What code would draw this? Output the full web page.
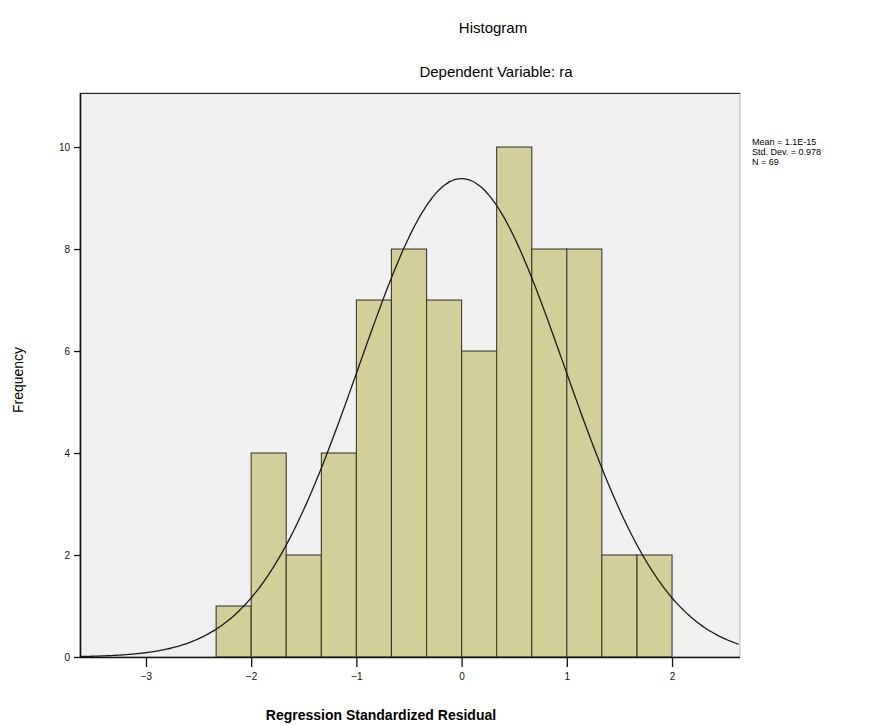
<!DOCTYPE html>
<html lang="en">
  <head>
    <meta charset="utf-8" />
    <title>Histogram</title>
    <script type="text/javascript" src="https://d3js.org/d3.v7.min.js"></script>
    <style>
      body { margin: 0; background: #fff; }
      text { font-family: "Liberation Sans", Arial, sans-serif; }
    </style>
  </head>
  <body>
    <div id="chart"></div>

    <script type="text/javascript">
      /********************************
       * data
       ********************************/

      // bin edges of the standardized residuals (width 1/3)
      const binEdges = [-2.333, -2, -1.667, -1.333, -1, -0.667, -0.333, 0,
        0.333, 0.667, 1, 1.333, 1.667, 2];
      const counts = [1, 4, 2, 4, 7, 8, 7, 6, 10, 8, 8, 2, 2];

      const xTicks = [-3, -2, -1, 0, 1, 2];
      const yTicks = [0, 2, 4, 6, 8, 10];

      const stats = { mean: 0, sd: 0.978, n: 69 };
      const legendLines = ["Mean = 1.1E-15", "Std. Dev. = 0.978", "N = 69"];

      const bins = counts.map((c, i) => ({ x0: binEdges[i], x1: binEdges[i + 1], count: c }));

      /***************************
       * create svg
       **************************/
      const width = 888;
      const height = 725;
      const margin = { top: 93, right: 148, bottom: 68, left: 80 };

      const svg = d3
        .select("div#chart")
        .append("svg")
        .attr("width", width)
        .attr("height", height);

      /****************************
       * scale
       *************************/
      const xScale = d3
        .scaleLinear()
        .domain([-3.627, 2.646])
        .range([margin.left, width - margin.right]);

      const yScale = d3
        .scaleLinear()
        .domain([0, 11.06])
        .range([height - margin.bottom, margin.top]);

      // plot background
      svg
        .append("rect")
        .attr("x", margin.left)
        .attr("y", margin.top)
        .attr("width", width - margin.left - margin.right)
        .attr("height", height - margin.top - margin.bottom)
        .attr("fill", "#f0f0f0")
        .attr("stroke", "#b8b8b8")
        .attr("stroke-width", 1);

      // top border is dark
      svg
        .append("line")
        .attr("x1", margin.left)
        .attr("x2", width - margin.right)
        .attr("y1", margin.top + 0.5)
        .attr("y2", margin.top + 0.5)
        .attr("stroke", "#222")
        .attr("stroke-width", 1.2);

      /*******************************
       * bars
       *******************************/
      svg
        .append("g")
        .selectAll("rect")
        .data(bins)
        .enter()
        .append("rect")
        .attr("x", (d) => xScale(d.x0))
        .attr("y", (d) => yScale(d.count))
        .attr("width", (d) => xScale(d.x1) - xScale(d.x0))
        .attr("height", (d) => yScale(0) - yScale(d.count))
        .attr("fill", "#d3cf98")
        .attr("stroke", "#3c3c30")
        .attr("stroke-width", 1.1);

      /*******************************
       * normal curve
       *******************************/
      const binWidth = 1 / 3;
      const pdf = (x) =>
        (1 / (stats.sd * Math.sqrt(2 * Math.PI))) *
        Math.exp(-0.5 * Math.pow((x - stats.mean) / stats.sd, 2));

      const curveX = d3.range(-3.627, 2.647, 0.02);
      const line = d3
        .line()
        .x((d) => xScale(d))
        .y((d) => yScale(stats.n * binWidth * pdf(d)))
        .curve(d3.curveBasis);

      svg
        .append("path")
        .datum(curveX)
        .attr("d", line)
        .attr("fill", "none")
        .attr("stroke", "#1a1a1a")
        .attr("stroke-width", 1.3);

      /*********************************
       * axes
       *******************************/
      const xAxis = d3
        .axisBottom(xScale)
        .tickValues(xTicks)
        .tickSize(10)
        .tickPadding(6)
        .tickFormat(d3.format("d"));

      const yAxis = d3
        .axisLeft(yScale)
        .tickValues(yTicks)
        .tickSize(6)
        .tickPadding(4)
        .tickFormat(d3.format("d"));

      const xAxisGroup = svg
        .append("g")
        .attr("transform", `translate(0,${height - margin.bottom})`)
        .call(xAxis);

      const yAxisGroup = svg
        .append("g")
        .attr("transform", `translate(${margin.left},0)`)
        .call(yAxis);

      [xAxisGroup, yAxisGroup].forEach((g) => {
        g.select(".domain").attr("stroke", "#111").attr("stroke-width", 1.6);
        g.selectAll(".tick line").attr("stroke", "#111").attr("stroke-width", 1.3);
        g.selectAll(".tick text")
          .attr("fill", "#111")
          .style("font-size", "10px")
          .style("font-family", "'Liberation Sans', Arial, sans-serif");
      });
      // plain axis lines without end caps
      xAxisGroup
        .select(".domain")
        .attr("d", `M${margin.left},0.5H${width - margin.right}`);
      yAxisGroup
        .select(".domain")
        .attr("d", `M0.5,${margin.top}V${height - margin.bottom}`);

      /*********************************
       * titles & labels
       *******************************/
      svg
        .append("text")
        .attr("x", 493)
        .attr("y", 33)
        .attr("text-anchor", "middle")
        .style("font-size", "15px")
        .text("Histogram");

      svg
        .append("text")
        .attr("x", 496)
        .attr("y", 77)
        .attr("text-anchor", "middle")
        .style("font-size", "15px")
        .text("Dependent Variable: ra");

      svg
        .append("text")
        .attr("x", 381)
        .attr("y", 720)
        .attr("text-anchor", "middle")
        .style("font-size", "14px")
        .style("font-weight", "bold")
        .text("Regression Standardized Residual");

      svg
        .append("text")
        .attr("x", -380)
        .attr("y", 23)
        .attr("text-anchor", "middle")
        .attr("transform", "rotate(-90)")
        .style("font-size", "14px")
        .text("Frequency");

      // legend with stats
      svg
        .append("g")
        .selectAll("text")
        .data(legendLines)
        .enter()
        .append("text")
        .attr("x", 752)
        .attr("y", (d, i) => 145 + i * 10)
        .style("font-size", "9px")
        .text((d) => d);
    </script>
  </body>
</html>
